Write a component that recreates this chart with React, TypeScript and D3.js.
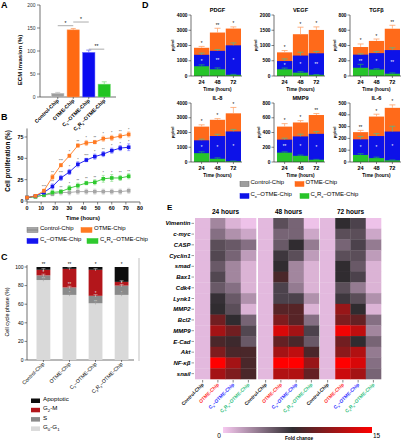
import React from "react";
import * as d3 from "d3";

const FONT = "'Liberation Sans', Arial, Helvetica, sans-serif";

// ---------- shared categories ----------
const chips = ["Control-Chip", "OTME-Chip", "Cx–OTME-Chip", "CxRx–OTME-Chip"];

// ---------- A: ECM invasion ----------
const invasionMean = [8, 146, 97, 28];
const invasionErr = [2, 3, 5, 5];
const invasionTicks = [0, 50, 100, 150, 200];
const invasionSig = [
  { a: 0, b: 1, level: 155, label: "*" },
  { a: 1, b: 2, level: 163, label: "*" },
  { a: 2, b: 3, level: 104, label: "**" },
];

// ---------- B: proliferation ----------
const hours = [0, 6, 12, 18, 24, 30, 36, 42, 48, 54, 60, 66, 72];
const profControl = [4, 5, 7, 8, 10, 10, 11, 11, 11, 11, 11, 11, 12];
const profOTME = [4, 6, 12, 28, 42, 53, 65, 68, 69, 73, 74, 76, 78];
const profCx = [4, 6, 10, 17, 27, 34, 43, 48, 52, 55, 59, 62, 63];
const profCxRx = [4, 5, 7, 10, 11, 15, 18, 21, 22, 26, 27, 27, 29];
const profErrControl = [1, 1, 2, 2, 3, 3, 3, 3, 3, 3, 3, 3, 3];
const profErrOTME = [1, 1, 2, 3, 2, 2, 2, 3, 2, 3, 3, 3, 3];
const profErrCx = [1, 1, 2, 3, 3, 3, 3, 2, 3, 3, 3, 3, 4];
const profErrCxRx = [1, 1, 2, 2, 2, 3, 3, 2, 3, 4, 4, 3, 3];
const starsOTME = ["", "", "***", "**", "***", "*", "**", "*", "**", "*", "*", "**", "*"];
const starsCx = ["", "", "", "**", "***", "*", "*", "***", "*", "**", "*", "*", "*"];
const starsCxRx = ["", "", "", "", "**", "*", "**", "**", "**", "*", "*", "**", "**"];
const profTicksX = [0, 10, 20, 30, 40, 50, 60, 70, 80];
const profTicksY = [0, 25, 50, 75];

// ---------- C: cell cycle ----------
const phases = ["G0-G1", "S", "G2-M", "Apoptotic"];
const phaseG0G1 = [86, 70, 61, 70];
const phaseS = [5, 8, 8, 10];
const phaseG2M = [6, 20, 28, 4];
const phaseApop = [3, 2, 3, 16];
const phaseTicks = [0, 20, 40, 60, 80, 100];
const phaseStarsTop = ["**", "**", "*", "*"];
const phaseStarsG2M = ["*", "**", "*", "*"];
const phaseStarsS = ["**", "*", "**", "*"];

// ---------- D: cytokines ----------
const timepoints = ["24", "48", "72"];
const cytokines = ["PDGF", "VEGF", "TGFβ", "IL-8", "MMP9", "IL-6"];
const cytoAxisMax = [4000, 2000, 800, 4000, 800, 500];
const cytoTickStep = [1000, 500, 200, 1000, 200, 100];
const cytoOTME = [[1850, 2850, 3110], [775, 1370, 1510], [380, 460, 620], [2400, 2860, 3300], [480, 536, 637], [253, 385, 459]];
const cytoCx = [[1390, 1650, 2010], [490, 670, 745], [280, 300, 340], [1470, 1760, 2070], [303, 347, 382], [192, 220, 258]];
const cytoCxRx = [[640, 440, 80], [220, 110, 40], [108, 85, 30], [600, 220, 50], [127, 84, 31], [60, 33, 14]];
const cytoErrOTME = [[90, 280, 110], [60, 230, 100], [40, 25, 45], [120, 80, 400], [40, 25, 20], [15, 20, 25]];
const cytoErrCx = [[110, 90, 160], [70, 110, 60], [10, 20, 30], [80, 120, 140], [20, 30, 30], [25, 20, 45]];
const cytoErrCxRx = [[90, 90, 30], [40, 30, 10], [45, 10, 10], [90, 60, 20], [10, 10, 5], [10, 8, 3]];
const cytoStarsTop = [["*", "**", "*"], ["*", "*", "*"], ["*", "*", "**"], ["*", "*", "*"], ["*", "*", "**"], ["**", "*", "*"]];
const cytoStarsIn = [["*", "**", "*"], ["*", "*", "**"], ["**", "*", "**"], ["*", "*", "*"], ["**", "*", "*"], ["*", "*", "*"]];

// ---------- E: heatmap ----------
const genes = ["Vimentin", "c-myc", "CASP", "Cyclin1", "smad", "Bax1", "Cdk4", "Lynk1", "MMP2", "Bcl2", "MMP9", "E-Cad", "Akt", "NF-κβ", "snail"];
const heatTitles = ["24 hours", "48 hours", "72 hours"];
// rows: genes; columns: Control, OTME, Cx, CxRx
const heat24 = [
  [0.7, 3, 1.0, 0.3], [0.7, 4, 2.5, 1.5], [0.7, 5.5, 5, 4], [0.7, 5.8, 4.5, 2],
  [0.7, 5, 3, 1.0], [0.7, 5.8, 3, 1.0], [0.7, 5, 4, 1.0], [0.7, 6.8, 5, 2.5],
  [0.7, 7, 5.5, 1.0], [0.7, 9.5, 7, 4.5], [0.7, 11.5, 9.5, 5.8], [0.7, 8, 7.5, 5],
  [0.7, 10, 8, 8], [0.7, 15, 11.5, 8], [0.7, 11.5, 10, 8],
];
const heat48 = [
  [0.7, 5.5, 4.5, 0.3], [0.7, 4.5, 4.5, 1.5], [0.7, 5, 7, 3.5], [0.7, 6.5, 5.5, 2],
  [0.7, 7, 3, 1.0], [0.7, 8, 3, 1.0], [0.7, 6, 3.5, 1.0], [0.7, 6, 6, 2.5],
  [0.7, 8.5, 8.5, 1.0], [0.7, 10, 8.5, 4], [0.7, 13.5, 11.5, 6], [0.7, 9, 8, 5],
  [0.7, 11.5, 12.5, 8], [0.7, 15, 15, 11], [0.7, 12, 12, 9],
];
const heat72 = [
  [0.7, 7, 6, 0.3], [0.7, 5.5, 5.5, 1.5], [0.7, 4.5, 6, 3.5], [0.7, 5.5, 5.5, 2],
  [0.7, 7, 5, 1.0], [0.7, 7, 6, 1.0], [0.7, 5.5, 3.5, 1.0], [0.7, 6.5, 5.5, 2.5],
  [0.7, 11, 7, 1.0], [0.7, 10, 9, 4], [0.7, 14.5, 12.5, 3], [0.7, 9.5, 7, 4.5],
  [0.7, 10.5, 12, 3.5], [0.7, 15, 13.5, 4], [0.7, 13, 11.5, 4.5],
];
const foldDomain = [0, 15];

// ---------- styles ----------
const AX = "#333";
const barColors = ["#9e9e9e", "#ff6a13", "#0b0bf0", "#22c422"];
const errColors = ["#c4c4c4", "#ffa26a", "#7070ff", "#86e086"];
const phaseColors = ["#d9d9d9", "#8a8a8a", "#b3161b", "#0d0d0d"];
const heatLabelColors = ["#111111", "#ff2a2a", "#2a2aff", "#2fc080"];

function Rich({ text, fs }: { text: string; fs: number }) {
  const parts = text.split(/(Cx|Rx|G0|G1|G2)/).filter((p) => p !== "");
  const d = fs * 0.28;
  const out: React.ReactNode[] = [];
  let shifted = false;
  parts.forEach((p, i) => {
    if (/^(Cx|Rx|G0|G1|G2)$/.test(p)) {
      out.push(<tspan key={i + "a"} dy={shifted ? -d : 0}>{p[0]}</tspan>);
      out.push(<tspan key={i + "b"} fontSize={fs * 0.7} dy={d}>{p[1]}</tspan>);
      shifted = true;
    } else {
      out.push(<tspan key={i + "c"} dy={shifted ? -d : 0}>{p}</tspan>);
      shifted = false;
    }
  });
  return <>{out}</>;
}

function PanelA() {
  const y = d3.scaleLinear().domain([0, 200]).range([97, 5]);
  const x = d3.scaleBand<string>().domain(chips).range([50, 112]).paddingInner(0.2).paddingOuter(0.1);
  const bw = x.bandwidth();
  const cx = (i: number) => (x(chips[i]) as number) + bw / 2;
  return (
    <g>
      <text x={1} y={8} fontSize={9} fontWeight="bold">A</text>
      {invasionTicks.map((t) => (
        <g key={t}>
          <line x1={37} x2={40} y1={y(t)} y2={y(t)} stroke={AX} strokeWidth={0.6} />
          <text x={35.5} y={y(t)} dy="0.35em" textAnchor="end" fontSize={5} fill="#333">{t}</text>
        </g>
      ))}
      <line x1={40} x2={40} y1={y(0)} y2={y(200)} stroke={AX} strokeWidth={0.7} />
      <line x1={40} x2={116} y1={y(0)} y2={y(0)} stroke={AX} strokeWidth={0.7} />
      {invasionMean.map((v, i) => (
        <g key={i}>
          <line x1={cx(i)} x2={cx(i)} y1={y(v)} y2={y(v + invasionErr[i])} stroke={errColors[i]} strokeWidth={0.8} />
          <line x1={cx(i) - 2.5} x2={cx(i) + 2.5} y1={y(v + invasionErr[i])} y2={y(v + invasionErr[i])} stroke={errColors[i]} strokeWidth={0.8} />
          <rect x={x(chips[i])} y={y(v)} width={bw} height={y(0) - y(v)} fill={barColors[i]} stroke={errColors[i]} strokeWidth={0.5} />
          <line x1={cx(i)} x2={cx(i)} y1={y(0)} y2={y(0) + 2} stroke={AX} strokeWidth={0.6} />
          <text transform={`translate(${cx(i) + 1.5},${y(0) + 4}) rotate(-45)`} textAnchor="end" dy="0.35em" fontSize={5.2} fontWeight="bold">
            <Rich text={chips[i]} fs={5.2} />
          </text>
        </g>
      ))}
      {invasionSig.map((s, k) => (
        <g key={k}>
          <line x1={cx(s.a)} x2={cx(s.b)} y1={y(s.level)} y2={y(s.level)} stroke="#888" strokeWidth={0.7} />
          <text x={(cx(s.a) + cx(s.b)) / 2} y={y(s.level) - 1} textAnchor="middle" fontSize={5}>{s.label}</text>
        </g>
      ))}
      <text transform="translate(22,60) rotate(-90)" textAnchor="middle" fontSize={6} fontWeight="bold">ECM invasion (%)</text>
    </g>
  );
}

function PanelB() {
  const x = d3.scaleLinear().domain([0, 80]).range([27, 140]);
  const y = d3.scaleLinear().domain([0, 75]).range([201, 137]);
  const series = [
    { vals: profControl, err: profErrControl, color: "#a6a6a6", ecol: "#c8c8c8", stars: null as string[] | null },
    { vals: profCxRx, err: profErrCxRx, color: "#2fc92f", ecol: "#7fdc7f", stars: starsCxRx },
    { vals: profCx, err: profErrCx, color: "#1515f0", ecol: "#6a6aff", stars: starsCx },
    { vals: profOTME, err: profErrOTME, color: "#ff7a22", ecol: "#ffaa70", stars: starsOTME },
  ];
  const lineGen = (vals: number[]) =>
    d3.line<number>().x((_, i) => x(hours[i])).y((v) => y(v))(vals) as string;
  const legend = [
    { i: 0, lx: 27, ly: 230 },
    { i: 1, lx: 81, ly: 230 },
    { i: 2, lx: 27, ly: 241 },
    { i: 3, lx: 87, ly: 241 },
  ];
  const legColors = ["#a6a6a6", "#ff7a22", "#1515f0", "#2fc92f"];
  return (
    <g>
      <text x={1} y={120} fontSize={9} fontWeight="bold">B</text>
      <line x1={x(0)} x2={x(0)} y1={y(0) + 1} y2={y(85)} stroke={AX} strokeWidth={0.7} />
      <line x1={x(0)} x2={x(80)} y1={y(0) + 1} y2={y(0) + 1} stroke={AX} strokeWidth={0.7} />
      {profTicksY.map((t) => (
        <g key={t}>
          <line x1={x(0) - 2.5} x2={x(0)} y1={y(t)} y2={y(t)} stroke={AX} strokeWidth={0.6} />
          <text x={x(0) - 3.5} y={y(t)} dy="0.35em" textAnchor="end" fontSize={5.3} fontWeight="bold">{t}</text>
        </g>
      ))}
      {profTicksX.map((t) => (
        <g key={t}>
          <line x1={x(t)} x2={x(t)} y1={y(0) + 1} y2={y(0) + 3.5} stroke={AX} strokeWidth={0.6} />
          <text x={x(t)} y={y(0) + 9} textAnchor="middle" fontSize={5.3} fontWeight="bold">{t}</text>
        </g>
      ))}
      {series.map((s, k) => (
        <g key={k}>
          <path d={lineGen(s.vals)} fill="none" stroke={s.color} strokeWidth={0.9} />
          {s.vals.map((v, i) => (
            <g key={i}>
              <line x1={x(hours[i])} x2={x(hours[i])} y1={y(v - s.err[i])} y2={y(v + s.err[i])} stroke={s.ecol} strokeWidth={0.7} />
              <line x1={x(hours[i]) - 1.5} x2={x(hours[i]) + 1.5} y1={y(v + s.err[i])} y2={y(v + s.err[i])} stroke={s.ecol} strokeWidth={0.6} />
              <line x1={x(hours[i]) - 1.5} x2={x(hours[i]) + 1.5} y1={y(v - s.err[i])} y2={y(v - s.err[i])} stroke={s.ecol} strokeWidth={0.6} />
              <rect x={x(hours[i]) - 1.8} y={y(v) - 1.8} width={3.6} height={3.6} fill={s.color} />
              {s.stars && s.stars[i] ? (
                <text x={x(hours[i])} y={y(v + s.err[i]) - 1} textAnchor="middle" fontSize={3.6} fill="#333">{s.stars[i]}</text>
              ) : null}
            </g>
          ))}
        </g>
      ))}
      <text transform="translate(10,161) rotate(-90)" textAnchor="middle" fontSize={6.3} fontWeight="bold">Cell proliferation (%)</text>
      <text x={83} y={220} textAnchor="middle" fontSize={5.6} fontWeight="bold">Time (hours)</text>
      {legend.map((l) => (
        <g key={l.i}>
          <rect x={l.lx} y={l.ly - 2.5} width={11} height={5} fill={legColors[l.i]} stroke={l.i === 0 ? "#777" : legColors[l.i]} strokeWidth={0.5} />
          <line x1={l.lx} x2={l.lx + 11} y1={l.ly} y2={l.ly} stroke={l.i === 0 ? "#777" : legColors[l.i]} strokeWidth={0.6} />
          <text x={l.lx + 13} y={l.ly} dy="0.35em" fontSize={6}>
            <Rich text={chips[l.i]} fs={6} />
          </text>
        </g>
      ))}
    </g>
  );
}

function PanelC() {
  const y = d3.scaleLinear().domain([0, 100]).range([360, 267]);
  const x = d3.scaleBand<string>().domain(chips).range([30, 135]).paddingInner(0.47).paddingOuter(0.25);
  const bw = x.bandwidth();
  const rows = chips.map((c, i) => ({
    chip: c,
    "G0-G1": phaseG0G1[i],
    S: phaseS[i],
    "G2-M": phaseG2M[i],
    Apoptotic: phaseApop[i],
  }));
  const stacked = d3.stack<any>().keys(phases)(rows);
  const legendOrder = [3, 2, 1, 0];
  return (
    <g>
      <text x={1} y={260} fontSize={9} fontWeight="bold">C</text>
      <line x1={139} x2={139} y1={258} y2={361} stroke="#999" strokeWidth={0.6} />
      {phaseTicks.map((t) => (
        <g key={t}>
          <line x1={24.5} x2={27} y1={y(t)} y2={y(t)} stroke={AX} strokeWidth={0.6} />
          <text x={23.5} y={y(t)} dy="0.35em" textAnchor="end" fontSize={5}>{t}</text>
        </g>
      ))}
      <line x1={27} x2={27} y1={y(0)} y2={y(100) - 2} stroke={AX} strokeWidth={0.7} />
      <line x1={27} x2={134} y1={y(0)} y2={y(0)} stroke={AX} strokeWidth={0.7} />
      {stacked.map((layer, li) => (
        <g key={li}>
          {layer.map((seg, i) => (
            <rect key={i} x={x(chips[i])} y={y(seg[1])} width={bw} height={y(seg[0]) - y(seg[1])} fill={phaseColors[li]} />
          ))}
        </g>
      ))}
      {stacked.slice(0, 3).map((layer, li) => (
        <g key={"e" + li}>
          {layer.map((seg, i) => {
            const cx = (x(chips[i]) as number) + bw / 2;
            return (
              <g key={i}>
                <line x1={cx} x2={cx} y1={y(seg[1]) - 1.2} y2={y(seg[1]) + 1.2} stroke={li === 0 ? "#999" : "#ddd"} strokeWidth={0.5} />
                <line x1={cx - 2} x2={cx + 2} y1={y(seg[1]) - 1.2} y2={y(seg[1]) - 1.2} stroke={li === 0 ? "#999" : "#ddd"} strokeWidth={0.5} />
              </g>
            );
          })}
        </g>
      ))}
      {chips.map((c, i) => {
        const cx = (x(c) as number) + bw / 2;
        const g2 = stacked[2][i];
        const s = stacked[1][i];
        return (
          <g key={c}>
            <text x={cx} y={y(100) - 1.5} textAnchor="middle" fontSize={4.5}>{phaseStarsTop[i]}</text>
            <text x={cx} y={y(g2[0]) - 1} textAnchor="middle" fontSize={4.5} fill="#ddd">{phaseStarsG2M[i]}</text>
            <text x={cx} y={y(s[0]) - 0.5} textAnchor="middle" fontSize={4} fill="#ddd">{phaseStarsS[i]}</text>
            <line x1={cx} x2={cx} y1={y(0)} y2={y(0) + 2} stroke={AX} strokeWidth={0.6} />
            <text transform={`translate(${cx + 1.5},${y(0) + 4.5}) rotate(-45)`} textAnchor="end" dy="0.35em" fontSize={5.2}>
              <Rich text={c} fs={5.2} />
            </text>
          </g>
        );
      })}
      <text transform="translate(9,312) rotate(-90)" textAnchor="middle" fontSize={5.4}>Cell cycle phase (%)</text>
      {legendOrder.map((pi, k) => (
        <g key={pi}>
          <rect x={31} y={398.5 + k * 9.3} width={9} height={4.5} fill={phaseColors[pi]} />
          <text x={43} y={401 + k * 9.3} dy="0.35em" fontSize={6.2}>
            <Rich text={phases[pi]} fs={6.2} />
          </text>
        </g>
      ))}
    </g>
  );
}

const dCols = [191, 274, 350];
const dRows = [
  { top: 15, zero: 76, title: 12, tick: 84, xlab: 91 },
  { top: 103, zero: 162, title: 100, tick: 170, xlab: 177 },
];

function CytoPlot({ k }: { k: number }) {
  const col = k % 3;
  const row = Math.floor(k / 3);
  const ax = dCols[col];
  const r = dRows[row];
  const y = d3.scaleLinear().domain([0, cytoAxisMax[k]]).range([r.zero, r.top]);
  const x = d3.scaleBand<string>().domain(timepoints).range([ax + 3, ax + 50]).paddingInner(0.04);
  const bw = x.bandwidth();
  const ticks = d3.range(0, cytoAxisMax[k] + 1, cytoTickStep[k]);
  const labelW = String(cytoAxisMax[k]).length * 2.8;
  const layers = [
    { vals: cytoOTME[k], err: cytoErrOTME[k], fill: "#ff6a1a", ecol: "#ffa066" },
    { vals: cytoCx[k], err: cytoErrCx[k], fill: "#0d12e8", ecol: "#57b88c" },
    { vals: cytoCxRx[k], err: cytoErrCxRx[k], fill: "#27c42a", ecol: "#1f9e6a" },
  ];
  return (
    <g>
      <text x={ax + 26.5} y={r.title} textAnchor="middle" fontSize={5.6} fontWeight="bold">{cytokines[k]}</text>
      {layers.map((L, li) => (
        <g key={li}>
          {L.vals.map((v, i) => (
            <rect key={i} x={x(timepoints[i])} y={y(v)} width={bw} height={r.zero - y(v)} fill={L.fill} />
          ))}
        </g>
      ))}
      {layers.map((L, li) => (
        <g key={"e" + li}>
          {L.vals.map((v, i) => {
            const cx = (x(timepoints[i]) as number) + bw / 2;
            return (
              <g key={i}>
                <line x1={cx} x2={cx} y1={y(v)} y2={y(v + L.err[i])} stroke={L.ecol} strokeWidth={0.7} />
                <line x1={cx - 3} x2={cx + 3} y1={y(v + L.err[i])} y2={y(v + L.err[i])} stroke={L.ecol} strokeWidth={0.8} />
              </g>
            );
          })}
        </g>
      ))}
      {timepoints.map((t, i) => {
        const cx = (x(t) as number) + bw / 2;
        return (
          <g key={t}>
            <text x={cx} y={y(cytoOTME[k][i] + cytoErrOTME[k][i]) - 1.5} textAnchor="middle" fontSize={4.5}>{cytoStarsTop[k][i]}</text>
            <text x={cx} y={(y(cytoCx[k][i]) + y(cytoCxRx[k][i])) / 2 + 2} textAnchor="middle" fontSize={4.5} fill="#fff">{cytoStarsIn[k][i]}</text>
            <line x1={cx} x2={cx} y1={r.zero} y2={r.zero + 2} stroke={AX} strokeWidth={0.6} />
            <text x={cx} y={r.tick} textAnchor="middle" fontSize={5.6} fontWeight="bold">{t}</text>
          </g>
        );
      })}
      <line x1={ax} x2={ax} y1={r.zero} y2={r.top} stroke={AX} strokeWidth={0.7} />
      <line x1={ax} x2={ax + 51} y1={r.zero} y2={r.zero} stroke={AX} strokeWidth={0.7} />
      {ticks.map((t) => (
        <g key={t}>
          <line x1={ax - 2.5} x2={ax} y1={y(t)} y2={y(t)} stroke={AX} strokeWidth={0.6} />
          <text x={ax - 3.5} y={y(t)} dy="0.35em" textAnchor="end" fontSize={4.8} fontWeight="bold">{t}</text>
        </g>
      ))}
      <text transform={`translate(${ax - 6 - labelW},${(r.top + r.zero) / 2}) rotate(-90)`} textAnchor="middle" fontSize={4.4} fontWeight="bold">pg/ml</text>
      <text x={ax + 26.5} y={r.xlab} textAnchor="middle" fontSize={4.7} fontWeight="bold">Time (hours)</text>
    </g>
  );
}

function PanelD() {
  const legend = [
    { i: 0, lx: 240, ly: 184, fill: "#9e9e9e" },
    { i: 1, lx: 295, ly: 184, fill: "#ff6a1a" },
    { i: 2, lx: 240, ly: 196, fill: "#0d12e8" },
    { i: 3, lx: 300, ly: 196, fill: "#27c42a" },
  ];
  return (
    <g>
      <text x={142} y={8} fontSize={9} fontWeight="bold">D</text>
      {cytokines.map((c, k) => <CytoPlot key={c} k={k} />)}
      {legend.map((l) => (
        <g key={l.i}>
          <rect x={l.lx} y={l.ly - 2.5} width={9} height={5} fill={l.fill} stroke={l.i === 0 ? "#666" : l.fill} strokeWidth={0.5} />
          <text x={l.lx + 10.5} y={l.ly} dy="0.35em" fontSize={6}>
            <Rich text={chips[l.i]} fs={6} />
          </text>
        </g>
      ))}
    </g>
  );
}

function PanelE() {
  const color = d3.scaleLinear<string>().domain([0, 7, 15]).range(["#f7c9f1", "#302c30", "#ff0000"]);
  const yE = d3.scaleBand<string>().domain(genes).range([218, 379]);
  const blocks = [heat24, heat48, heat72];
  const x0 = [195, 258, 320];
  const rh = yE.bandwidth();
  const cb = d3.scaleLinear().domain(foldDomain).range([223, 372]);
  const stops = d3.range(0, 15.01, 1);
  return (
    <g>
      <text x={167} y={210} fontSize={8} fontWeight="bold">E</text>
      <defs>
        <linearGradient id="foldgrad" x1="0" x2="1" y1="0" y2="0">
          {stops.map((s) => (
            <stop key={s} offset={`${(s / 15) * 100}%`} stopColor={color(s)} />
          ))}
        </linearGradient>
      </defs>
      {genes.map((g) => (
        <g key={g}>
          <text x={190.5} y={(yE(g) as number) + rh / 2} dy="0.35em" textAnchor="end" fontSize={6} fontWeight="bold" fontStyle="italic">{g}</text>
          <line x1={191.5} x2={194} y1={(yE(g) as number) + rh / 2} y2={(yE(g) as number) + rh / 2} stroke={AX} strokeWidth={0.5} />
        </g>
      ))}
      {blocks.map((b, bi) => {
        const xE = d3.scaleBand<string>().domain(chips).range([x0[bi], x0[bi] + 61]);
        const cw = xE.bandwidth();
        return (
          <g key={bi}>
            <text x={x0[bi] + 30.5} y={214} textAnchor="middle" fontSize={6.5} fontWeight="bold">{heatTitles[bi]}</text>
            {b.map((rowVals, ri) =>
              rowVals.map((v, ci) => (
                <rect key={ri + "-" + ci} x={xE(chips[ci])} y={yE(genes[ri])} width={cw + 0.3} height={rh + 0.3} fill={color(v)} />
              ))
            )}
            {chips.map((c, ci) => {
              const cx = (xE(c) as number) + cw / 2;
              return (
                <g key={c}>
                  <line x1={cx} x2={cx} y1={380} y2={382.5} stroke={AX} strokeWidth={0.6} />
                  <text transform={`translate(${cx + 1.5},${385}) rotate(-45)`} textAnchor="end" dy="0.35em" fontSize={4.8} fontWeight="bold" fill={heatLabelColors[ci]}>
                    <Rich text={c} fs={4.8} />
                  </text>
                </g>
              );
            })}
          </g>
        );
      })}
      <rect x={cb(0)} y={427} width={cb(15) - cb(0)} height={6} fill="url(#foldgrad)" />
      <text x={cb(0) - 4} y={438} textAnchor="middle" fontSize={6.5}>0</text>
      <text x={cb(15) + 4.5} y={438} textAnchor="middle" fontSize={6.5}>15</text>
      <text x={299} y={439.5} textAnchor="middle" fontSize={4.8} fontWeight="bold">Fold change</text>
    </g>
  );
}

export default function App() {
  return (
    <svg
      width={410}
      height={440}
      viewBox="0 0 410 440"
      style={{ position: "absolute", left: 0, top: 0, display: "block" }}
      fontFamily={FONT}
    >
      <rect width={410} height={440} fill="#fff" />
      <PanelA />
      <PanelB />
      <PanelC />
      <PanelD />
      <PanelE />
    </svg>
  );
}
